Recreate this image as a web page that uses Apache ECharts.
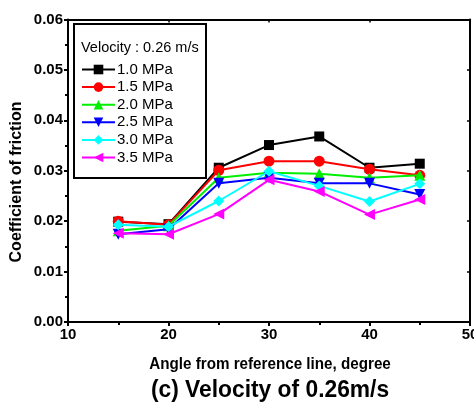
<!DOCTYPE html>
<html><head><meta charset="utf-8">
<script src="https://cdn.jsdelivr.net/npm/echarts@6/dist/echarts.min.js"></script>
<style>html,body{margin:0;padding:0;background:#fff}#c{width:474px;height:403px}</style>
</head><body><div id="c"></div>
<script>
const angles = [15, 20, 25, 30, 35, 40, 45];
const p10 = [0.0199, 0.0194, 0.0306, 0.0351, 0.0368, 0.0306, 0.0314];
const p15 = [0.0200, 0.0193, 0.0301, 0.0319, 0.0319, 0.0303, 0.0291];
const p20 = [0.0181, 0.0191, 0.0286, 0.0296, 0.0294, 0.0286, 0.0291];
const p25 = [0.0174, 0.0184, 0.0275, 0.0286, 0.0275, 0.0275, 0.0253];
const p30 = [0.0193, 0.0189, 0.0240, 0.0299, 0.0270, 0.0239, 0.0274];
const p35 = [0.0176, 0.0174, 0.0214, 0.0282, 0.0259, 0.0213, 0.0243];
const seriesNames = ['1.0 MPa', '1.5 MPa', '2.0 MPa', '2.5 MPa', '3.0 MPa', '3.5 MPa'];
const seriesData = [p10, p15, p20, p25, p30, p35];
const colors = ['#000000', '#ff0000', '#00ee00', '#0000ff', '#00ffff', '#ff00ff'];
const symbols = ['rect', 'circle', 'triangle', 'triangle', 'diamond', 'triangle'];
const rotations = [0, 0, 0, 180, 0, 90];
const sizes = [10, 11, 11, 11, 11, 11];

const F = 'Liberation Sans, Arial, sans-serif';
const chart = echarts.init(document.getElementById('c'), null, {renderer: 'canvas'});
const axisCommon = {
  axisLine: {show: true, onZero: false, lineStyle: {color: '#000', width: 2}},
  splitLine: {show: false}
};
chart.setOption({
  animation: false,
  backgroundColor: '#fff',
  grid: {left: 68, right: 4, top: 19.5, bottom: 81, containLabel: false, outerBoundsMode: 'none'},
  xAxis: [
    Object.assign({
      type: 'value', min: 10, max: 50, interval: 10, position: 'bottom',
      axisTick: {show: true, inside: false, length: 4, lineStyle: {width: 2, color: '#000'}},
      minorTick: {show: true, splitNumber: 2, length: 3, lineStyle: {width: 2, color: '#000'}},
      axisLabel: {fontFamily: F, fontWeight: 'bold', fontSize: 15, color: '#000', margin: 5, showMaxLabel: true}
    }, axisCommon),
    Object.assign({
      type: 'value', min: 10, max: 50, interval: 10, position: 'top',
      axisTick: {show: true, inside: true, length: 3, lineStyle: {width: 1.5, color: '#000'}},
      minorTick: {show: false},
      axisLabel: {show: false}
    }, axisCommon)
  ],
  yAxis: [
    Object.assign({
      type: 'value', min: 0, max: 0.06, interval: 0.01, position: 'left',
      axisTick: {show: true, inside: false, length: 4, lineStyle: {width: 2, color: '#000'}},
      minorTick: {show: true, splitNumber: 2, length: 3, lineStyle: {width: 2, color: '#000'}},
      axisLabel: {fontFamily: F, fontWeight: 'bold', fontSize: 15, color: '#000', margin: 5,
        formatter: v => v.toFixed(2)}
    }, axisCommon),
    Object.assign({
      type: 'value', min: 0, max: 0.06, interval: 0.01, position: 'right',
      axisTick: {show: true, inside: true, length: 3, lineStyle: {width: 1.5, color: '#000'}},
      minorTick: {show: false},
      axisLabel: {show: false}
    }, axisCommon)
  ],
  legend: {
    orient: 'vertical', left: 81, top: 62, padding: 0,
    itemWidth: 33, itemHeight: 12, itemGap: 2.6,
    textStyle: {fontFamily: F, fontSize: 15, lineHeight: 12, color: '#000', padding: [0, 0, 0, -3]},
    data: seriesNames
  },
  graphic: [
    {type: 'rect', left: 73, top: 23, shape: {width: 132, height: 154},
     style: {fill: 'rgba(0,0,0,0)', stroke: '#000', lineWidth: 2}, z: 100},
    {type: 'text', x: 81, y: 48,
     style: {text: 'Velocity : 0.26 m/s', font: '14.5px ' + F, fill: '#000', textVerticalAlign: 'middle'}, z: 100},
    {type: 'text', x: 17, y: 182, rotation: Math.PI / 2,
     style: {text: 'Coefficient of friction', font: 'bold 16px ' + F, fill: '#000', textAlign: 'center', textVerticalAlign: 'middle'}, z: 100},
    {type: 'text', x: 270, y: 365, scaleX: 0.95,
     style: {text: 'Angle from reference line, degree', font: 'bold 16px ' + F, fill: '#000', textAlign: 'center', textVerticalAlign: 'middle'}, z: 100},
    {type: 'text', x: 270, y: 390, scaleX: 0.95,
     style: {text: '(c) Velocity of 0.26m/s', font: 'bold 24px ' + F, fill: '#000', textAlign: 'center', textVerticalAlign: 'middle'}, z: 100}
  ],
  series: seriesNames.map((n, i) => ({
    name: n, type: 'line',
    data: angles.map((a, j) => [a, seriesData[i][j]]),
    symbol: symbols[i], symbolRotate: rotations[i], symbolSize: sizes[i],
    lineStyle: {color: colors[i], width: 2},
    itemStyle: {color: colors[i]},
    z: 2 + i
  }))
});
</script></body></html>
